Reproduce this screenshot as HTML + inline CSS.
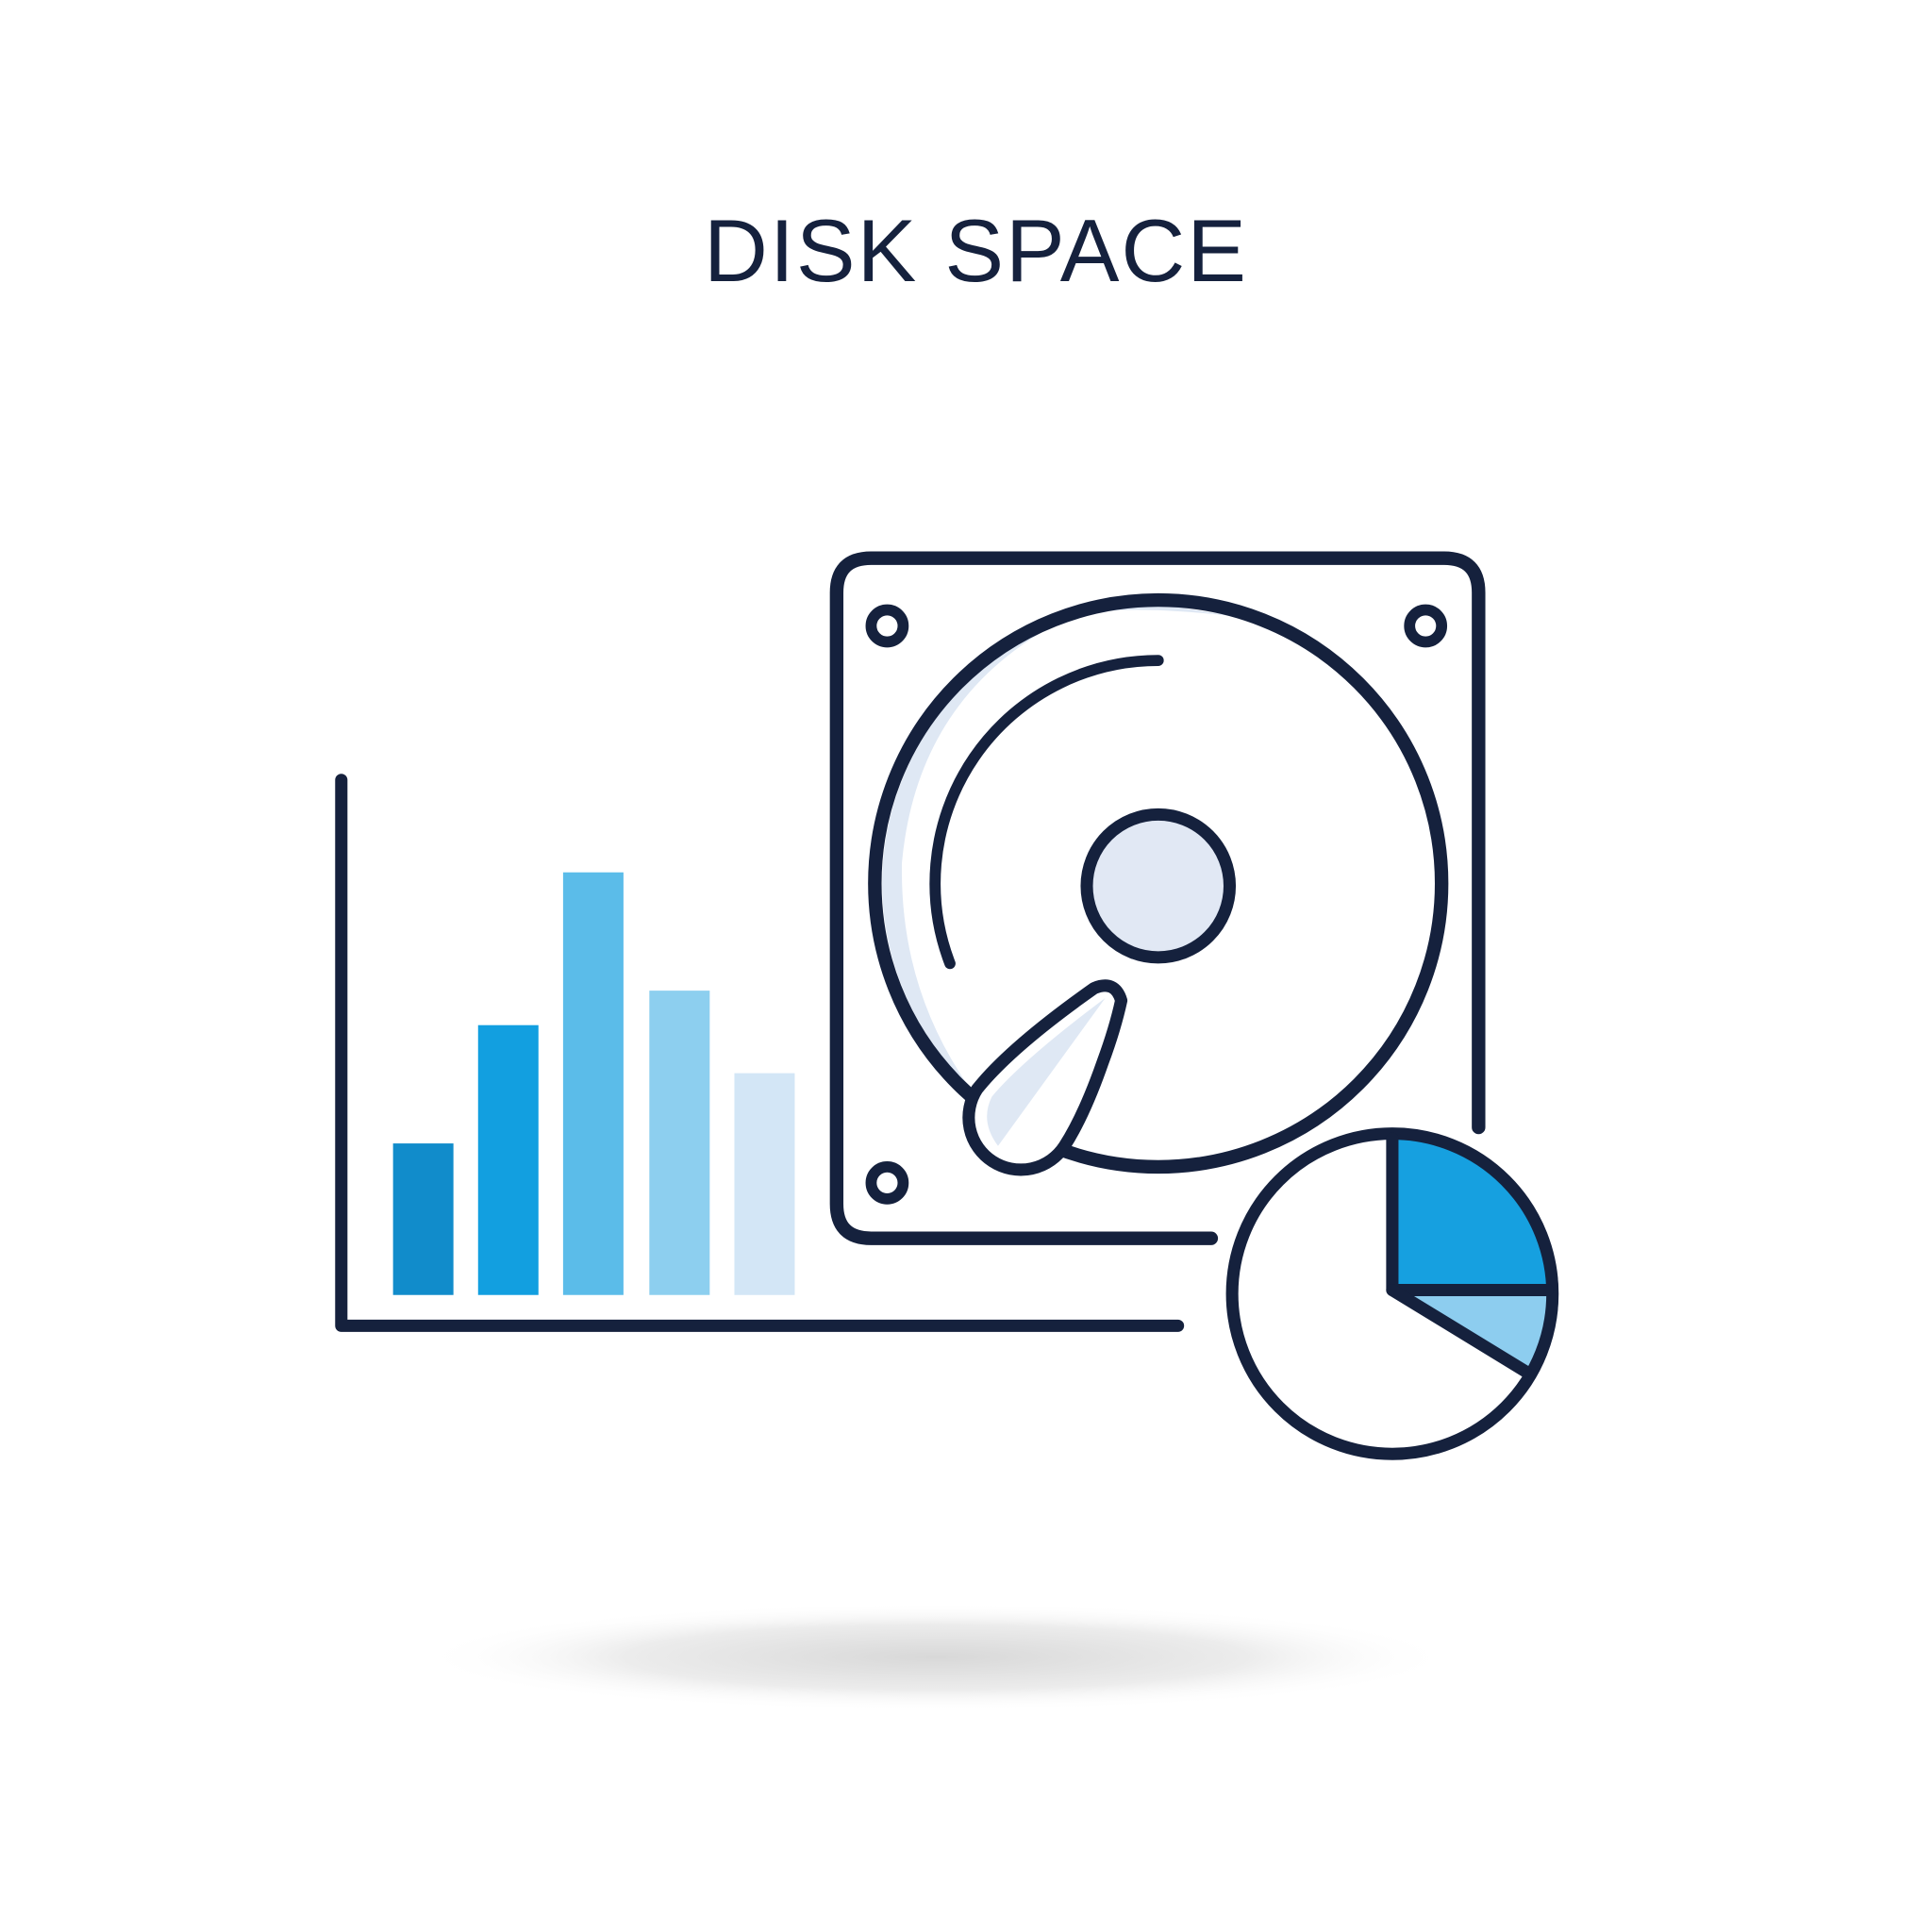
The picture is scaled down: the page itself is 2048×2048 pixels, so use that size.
<!DOCTYPE html>
<html><head><meta charset="utf-8"><style>
html,body{margin:0;padding:0;background:#fff;}
svg{display:block;}
</style></head><body>
<svg width="2048" height="2048" viewBox="0 0 1568 1568" xmlns="http://www.w3.org/2000/svg">
<defs>
<radialGradient id="sh" cx="0.5" cy="0.5" r="0.5">
<stop offset="0" stop-color="#d8d8d8"/><stop offset="0.6" stop-color="#ececec"/><stop offset="1" stop-color="#fff" stop-opacity="0"/>
</radialGradient>
</defs>
<rect width="1568" height="1568" fill="#fff"/>
<ellipse cx="760" cy="1345" rx="420" ry="44" fill="url(#sh)"/>
<text x="792" y="228" text-anchor="middle" font-family="Liberation Sans, sans-serif" font-size="72" fill="#15213d" letter-spacing="1.5">DISK SPACE</text>
<g fill="none" stroke="#15213d" stroke-width="10" stroke-linecap="round" stroke-linejoin="round">
<path d="M277 633 L277 1076 L956 1076"/>
</g>
<rect x="319" y="928" width="49" height="123" fill="#118ccb"/>
<rect x="388" y="832" width="49" height="219" fill="#129fe0"/>
<rect x="457" y="708" width="49" height="343" fill="#5bbce9"/>
<rect x="527" y="804" width="49" height="247" fill="#8dcfef"/>
<rect x="596" y="871" width="49" height="180" fill="#d3e6f6"/>
<g fill="none" stroke="#15213d" stroke-width="11" stroke-linecap="round" stroke-linejoin="round">
<path d="M983 1005 L707 1005 Q679 1005 679 977 L679 481 Q679 453 707 453 L1172 453 Q1200 453 1200 481 L1200 915"/>
</g>
<path d="M940 490 A227 227 0 0 0 785 880 Q730 800 732 700 Q745 560 870 500 Q910 490 1000 500 Z" fill="#dfe8f4"/>
<g fill="none" stroke="#15213d" stroke-width="9" stroke-linecap="round">
<circle cx="720" cy="508" r="13"/>
<circle cx="1157" cy="508" r="13"/>
<circle cx="720" cy="960" r="13"/>
<circle cx="940" cy="717" r="230" stroke-width="11"/>
<path d="M940 536 A181 181 0 0 0 771 782"/>
</g>
<circle cx="940" cy="719" r="58" fill="#e1e8f4" stroke="#15213d" stroke-width="10"/>
<path d="M888 802 Q905 795 910 812 Q905 835 895 862 Q880 905 864 930 A38 38 0 1 1 793 884 Q820 850 888 802 Z" fill="#fff" stroke="#15213d" stroke-width="10" stroke-linejoin="round"/>
<path d="M897 810 L810 930 Q795 910 805 890 Q830 860 897 810 Z" fill="#dfe8f4"/>
<circle cx="1130" cy="1050" r="130" fill="#fff" stroke="#fff" stroke-width="26"/>
<path d="M1130 1047 L1130 924 A126 126 0 0 1 1256 1047 Z" fill="#16a0e0"/>
<path d="M1130 1047 L1256 1047 A126 126 0 0 1 1238 1113 Z" fill="#8dcdef"/>
<g fill="none" stroke="#15213d" stroke-width="10" stroke-linecap="round" stroke-linejoin="round">
<circle cx="1130" cy="1050" r="130"/>
<path d="M1130 924 L1130 1047 L1256 1047"/>
<path d="M1130 1047 L1238 1113"/>
</g>
</svg>
</body></html>
